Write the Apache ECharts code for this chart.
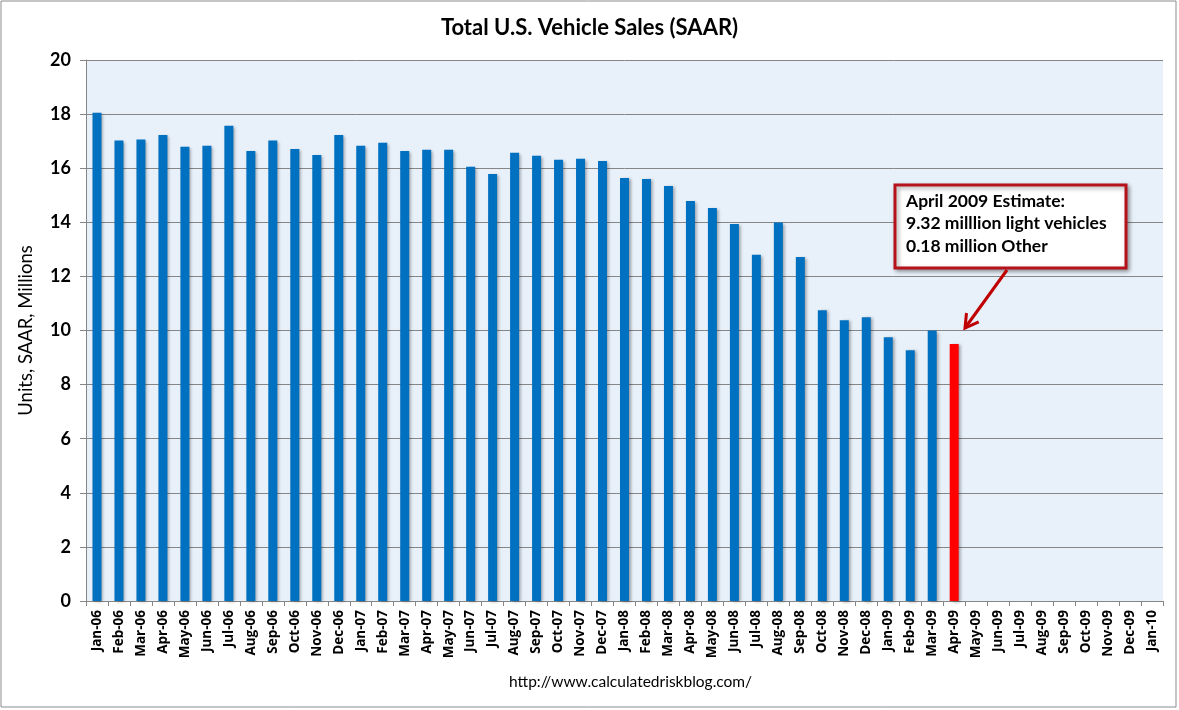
<!DOCTYPE html>
<html>
<head>
<meta charset="utf-8">
<script src="https://cdn.jsdelivr.net/npm/echarts@6/dist/echarts.min.js"></script>
<style>
html,body{margin:0;padding:0;background:#fff;}
#c{width:1179px;height:710px;}
</style>
</head>
<body>
<div id="c"></div>
<script>
var months = ["Jan-06","Feb-06","Mar-06","Apr-06","May-06","Jun-06","Jul-06","Aug-06","Sep-06","Oct-06","Nov-06","Dec-06",
"Jan-07","Feb-07","Mar-07","Apr-07","May-07","Jun-07","Jul-07","Aug-07","Sep-07","Oct-07","Nov-07","Dec-07",
"Jan-08","Feb-08","Mar-08","Apr-08","May-08","Jun-08","Jul-08","Aug-08","Sep-08","Oct-08","Nov-08","Dec-08",
"Jan-09","Feb-09","Mar-09","Apr-09","May-09","Jun-09","Jul-09","Aug-09","Sep-09","Oct-09","Nov-09","Dec-09","Jan-10"];
var actualSales = [18.05,17.02,17.06,17.23,16.79,16.83,17.57,16.64,17.02,16.71,16.49,17.23,
16.83,16.94,16.64,16.68,16.68,16.05,15.79,16.57,16.46,16.31,16.35,16.27,
15.64,15.60,15.34,14.79,14.53,13.94,12.80,13.99,12.72,10.75,10.38,10.49,
9.75,9.27,10.00];
var estimateMonth = "Apr-09";
var estimateLight = 9.32;
var estimateOther = 0.18;
var yTicks = [0,2,4,6,8,10,12,14,16,18,20];

var estIdx = months.indexOf(estimateMonth);
var seriesData = months.map(function(m, i){
  if (i < actualSales.length) return actualSales[i];
  if (i === estIdx) return +(estimateLight + estimateOther).toFixed(2);
  return null;
});

var FONT = 'Lato, "Open Sans", sans-serif';
var chart = echarts.init(document.getElementById('c'), null, {renderer:'canvas'});
chart.setOption({
  animation: false,
  backgroundColor: '#ffffff',
  title: {
    text: 'Total U.S. Vehicle Sales (SAAR)',
    left: 'center', top: 12,
    textStyle: {fontFamily: FONT, fontWeight: 'bold', fontSize: 22, color: '#000'}
  },
  grid: {left: 86, right: 16, top: 60, bottom: 109, containLabel: false,
    show: true, backgroundColor: '#e8f0f9', borderWidth: 0},
  xAxis: {
    type: 'category', data: months, boundaryGap: true,
    axisLine: {lineStyle: {color: '#868686', width: 1}},
    axisTick: {show: true, interval: 0, alignWithLabel: false, length: 5, lineStyle: {color: '#868686'}},
    axisLabel: {interval: 0, rotate: 90, margin: 9, fontFamily: '"Open Sans", Lato, sans-serif', fontWeight: 'bold', fontSize: 13.5, color: '#000'}
  },
  yAxis: {
    type: 'value', min: yTicks[0], max: yTicks[yTicks.length-1], interval: 2,
    name: 'Units, SAAR, Millions', nameLocation: 'middle', nameGap: 50, nameRotate: 90,
    nameTextStyle: {fontFamily: FONT, fontSize: 18.5, color: '#000'},
    axisLine: {show: true, lineStyle: {color: '#868686', width: 1}},
    axisTick: {show: true, length: 6, lineStyle: {color: '#868686'}},
    axisLabel: {margin: 15, fontFamily: FONT, fontWeight: 'bold', fontSize: 18, color: '#000'},
    splitLine: {show: true, lineStyle: {color: '#868686', width: 1}}
  },
  series: [{
    type: 'bar', data: seriesData, barWidth: 9,
    itemStyle: {
      color: function(p){ return p.dataIndex === estIdx ? '#ff0000' : '#0070c0'; },
      shadowColor: 'rgba(0,0,0,0.35)', shadowBlur: 3, shadowOffsetX: 2, shadowOffsetY: 1
    }
  }],
  graphic: [
    {type: 'rect', shape: {x: 1, y: 1, width: 1175, height: 706}, silent: true,
      style: {fill: 'none', stroke: '#8c8c8c', lineWidth: 1}, z: 100},
    {type: 'text', x: 509, y: 674, silent: true,
      style: {text: 'http://www.calculatedriskblog.com/', fontFamily: FONT, fontSize: 15.5, fill: '#000'}},
    {type: 'rect', shape: {x: 895, y: 185, width: 231, height: 83}, z: 50,
      style: {fill: '#ffffff', stroke: '#b5121b', lineWidth: 3,
        shadowColor: 'rgba(0,0,0,0.35)', shadowBlur: 4, shadowOffsetX: 2, shadowOffsetY: 2}},
    {type: 'text', z: 51, x: 906, y: 190,
      style: {text: 'April 2009 Estimate:\n9.32 milllion light vehicles\n0.18 million Other',
        fontFamily: FONT, fontWeight: 'bold', fontSize: 17.5, lineHeight: 22.5, fill: '#000'}},
    {type: 'line', z: 51, shape: {x1: 1007, y1: 270, x2: 965, y2: 328},
      style: {stroke: '#c00000', lineWidth: 3}},
    {type: 'polyline', z: 51, shape: {points: [[966.5, 313], [965, 328], [978.7, 321.9]]},
      style: {stroke: '#c00000', lineWidth: 3, fill: 'none', lineJoin: 'miter'}}
  ]
});
</script>
</body>
</html>
